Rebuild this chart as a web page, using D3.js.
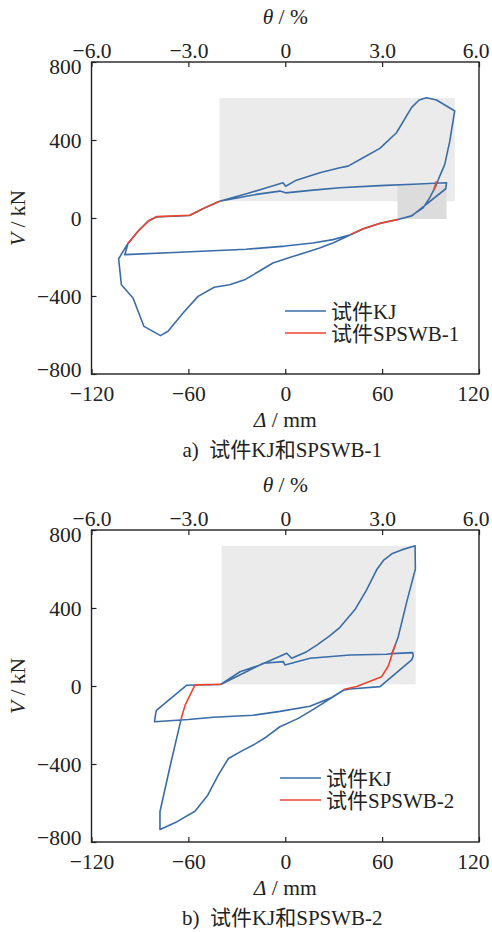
<!DOCTYPE html>
<html>
<head>
<meta charset="utf-8">
<script src="https://cdn.jsdelivr.net/npm/d3@7"></script>
<style>
  body { margin: 0; background: #fff; }
  svg text { font-family: "Liberation Serif", "Noto Sans CJK SC", serif; fill: #222; }
</style>
</head>
<body>
<svg id="chart" width="492" height="932"></svg>
<script>
// tick values
const dispTicks = [-120, -60, 0, 60, 120];
const driftTicks = [-6, -3, 0, 3, 6];
const forceTicks = [-800, -400, 0, 400, 800];

// panel a: [displacement mm, force kN], null = pen up
const kjA = [
  [-40.7, 86], [-24, 124], [-11.6, 155], [-1.4, 181], [0.3, 163], [6.9, 194], [21.4, 232],
  [33.8, 258], [38.9, 266], [48.2, 309], [58.6, 357], [68.9, 437], [78.2, 566], [82.9, 605],
  [87.5, 617], [93.7, 605], [105, 549], [104.4, 523], [101.9, 394], [98.8, 275], [95.7, 215],
  [93.2, 163], [89.5, 104], [85.4, 52], [78.2, 12], [69.9, -8], [78.2, 10], [99.4, 150],
  [99.9, 181], [79.1, 173], [58.5, 166], [33.8, 155], [17.2, 143], [0.3, 129], [-3.4, 138],
  [-17.8, 121], [-40.7, 86], [-50, 51], [-59.2, 13], [-79.8, 5], [-85, -17], [-91.2, -68],
  [-97.4, -131], [-99.4, -188], [-65.5, -176], [-24.2, -160], [0, -144], [17.1, -128],
  [29.5, -111], [40.5, -86], [29.5, -128], [21.3, -154], [2.7, -203], [-7.6, -231],
  [-25.2, -317], [-34.5, -342], [-44, -355], [-54, -402], [-63.3, -487], [-72.6, -581],
  [-77.3, -603], [-87.5, -556], [-94.3, -410], [-101.5, -342], [-103.2, -210], [-100, -165],
  [-97.4, -131],
  null,
  [69.9, -8], [58.6, -28], [48.2, -56], [40.5, -86]
];
const spswb1 = [
  [-97.4, -131], [-91.2, -68], [-85, -17], [-79.8, 7], [-59.2, 14], [-50, 52], [-40.7, 86],
  null,
  [40.5, -84], [48.2, -55], [58.6, -27], [69.9, -7],
  null,
  [92, 142], [93.6, 188]
];
// shaded zones [x0, v0, x1, v1]
const zonesA = [[-40.7, 86, 105, 616], [-103.3, -86, 40.9, -608]];
const zoneDarkA = [[69.5, -5, 99.9, 170]];

// panel b
const kjB = [
  [-40, 8], [-28, 73], [-15.6, 108], [0.9, 168], [4, 142], [13.3, 176], [20, 212], [27.7, 258],
  [33.9, 301], [43.2, 392], [50.4, 493], [56.6, 596], [60.8, 644], [66, 678], [72.1, 698],
  [80.4, 719], [80.6, 600], [75.2, 430], [70, 253], [67, 185], [65.8, 166], [78.9, 171],
  [79.3, 154], [78.3, 134], [58.7, -3], [40.1, -15], [36, -22], [17.4, -120], [8.1, -166],
  [-3.3, -209], [-11.5, -260], [-19.8, -303], [-26, -329], [-35.2, -372], [-41.5, -457],
  [-48, -560], [-55.9, -642], [-67.3, -697], [-77.6, -736], [-77.6, -645], [-71.4, -414],
  [-64.6, -174], [-81, -183], [-80.2, -140], [-79.8, -125], [-61, 4], [-55.9, 5], [-40, 8],
  [-39.4, 10], [-26, 65], [-13.6, 117], [-1.2, 125], [-0.2, 108], [15.3, 142], [40.1, 159],
  [62.8, 163], [65.8, 166],
  null,
  [-64.6, -174], [-60, -172], [-44.5, -160], [-20, -150], [-3.2, -130], [15.3, -104],
  [28, -62], [36, -22]
];
const spswb2 = [
  [-40, 9], [-55.9, 6], [-62, -98], [-64.6, -172],
  null,
  [36, -18], [44.2, -3], [59.7, 48], [63.9, 104], [68, 210]
];
const zonesB = [[-39.4, 8, 80.8, 719], [-77.6, -15, 36.4, -736]];

const panels = [
  { top: 62, kj: kjA, sp: spswb1, zones: zonesA, dark: zoneDarkA,
    legend: ["试件KJ", "试件SPSWB-1"], caption: "a)  试件KJ和SPSWB-1", legX: 285, legY: 311 },
  { top: 530, kj: kjB, sp: spswb2, zones: zonesB, dark: [],
    legend: ["试件KJ", "试件SPSWB-2"], caption: "b)  试件KJ和SPSWB-2", legX: 280, legY: 778 }
];

const blue = "#3a6ca8", red = "#ee4430";
const left = 91.5, right = 479, plotH = 312;
const fs = 21.5;
const svg = d3.select("#chart");
const fmt1 = d => d === 0 ? "0" : d3.format(".1f")(d);
const fmt0 = d => d3.format("d")(d);

panels.forEach(p => {
  const x = d3.scaleLinear().domain([-120, 120]).range([left, right]);
  const t = d3.scaleLinear().domain([-6, 6]).range([left, right]);
  const y = d3.scaleLinear().domain([-800, 800]).range([p.top + plotH, p.top]);
  const g = svg.append("g");

  // shaded zones
  g.selectAll("rect.zone").data(p.zones).join("rect")
    .attr("class", "zone")
    .attr("x", d => x(d[0])).attr("y", d => y(d[3]))
    .attr("width", d => x(d[2]) - x(d[0])).attr("height", d => y(d[1]) - y(d[3]))
    .attr("fill", "#ebebeb");
  g.selectAll("rect.dark").data(p.dark).join("rect")
    .attr("class", "dark")
    .attr("x", d => x(d[0])).attr("y", d => y(d[3]))
    .attr("width", d => x(d[2]) - x(d[0])).attr("height", d => y(d[1]) - y(d[3]))
    .attr("fill", "#dcdcdc");

  // axes, ticks pointing inward
  const axB = g.append("g").attr("transform", `translate(0,${p.top + plotH})`)
    .call(d3.axisBottom(x).tickValues(dispTicks).tickFormat(fmt0).tickSizeInner(-5).tickSizeOuter(0).tickPadding(13));
  const axT = g.append("g").attr("transform", `translate(0,${p.top})`)
    .call(d3.axisTop(t).tickValues(driftTicks).tickFormat(fmt1).tickSizeInner(-5).tickSizeOuter(0).tickPadding(4));
  const axL = g.append("g").attr("transform", `translate(${left},0)`)
    .call(d3.axisLeft(y).tickValues(forceTicks).tickFormat(fmt0).tickSizeInner(-5).tickSizeOuter(0).tickPadding(10));
  [axB, axT, axL].forEach(a => {
    a.select(".domain").remove();
    a.selectAll("line").attr("stroke", "#222").attr("stroke-width", 1.2);
    a.selectAll("text").attr("font-size", fs).attr("font-family", null).attr("fill", "#222");
  });
  // end labels sit a little inside the frame, as in the original
  axL.selectAll("text").attr("dy", d => d === 800 ? "0.52em" : d === -800 ? "0.12em" : "0.36em");
  axB.selectAll("text").attr("dy", "0.66em");
  [axB, axT].forEach(a => a.selectAll(".tick:last-of-type text")
    .attr("text-anchor", "end").attr("x", 10));

  // frame
  g.append("rect").attr("x", left).attr("y", p.top)
    .attr("width", right - left).attr("height", plotH)
    .attr("fill", "none").attr("stroke", "#222").attr("stroke-width", 1.4);

  // curves
  const line = d3.line().defined(d => d !== null).x(d => x(d[0])).y(d => y(d[1]));
  g.append("path").datum(p.kj).attr("d", line)
    .attr("fill", "none").attr("stroke", blue).attr("stroke-width", 1.6).attr("stroke-linejoin", "round");
  g.append("path").datum(p.sp).attr("d", line)
    .attr("fill", "none").attr("stroke", red).attr("stroke-width", 1.6).attr("stroke-linejoin", "round");

  // legend
  const leg = g.append("g");
  [[blue, p.legend[0]], [red, p.legend[1]]].forEach((e, i) => {
    const ly = p.legY + i * 22;
    leg.append("line").attr("x1", p.legX).attr("x2", p.legX + 41)
      .attr("y1", ly).attr("y2", ly).attr("stroke", e[0]).attr("stroke-width", 1.6);
    leg.append("text").attr("x", p.legX + 46).attr("y", ly).attr("dy", "0.36em")
      .attr("font-size", 21).text(e[1]);
  });

  // axis titles
  const cx = (left + right) / 2;
  const tt = g.append("text").attr("x", cx).attr("y", p.top - 38)
    .attr("text-anchor", "middle").attr("font-size", fs);
  tt.append("tspan").attr("font-style", "italic").text("θ");
  tt.append("tspan").text(" / %");

  const bt = g.append("text").attr("x", cx).attr("y", p.top + plotH + 53)
    .attr("text-anchor", "middle").attr("font-size", fs);
  bt.append("tspan").attr("font-style", "italic").text("Δ");
  bt.append("tspan").text(" / mm");

  const lt = g.append("text")
    .attr("transform", `translate(25,${p.top + plotH / 2}) rotate(-90)`)
    .attr("text-anchor", "middle").attr("font-size", fs);
  lt.append("tspan").attr("font-style", "italic").text("V");
  lt.append("tspan").text(" / kN");

  g.append("text").attr("x", cx - 3).attr("y", p.top + plotH + 83)
    .attr("text-anchor", "middle").attr("font-size", 21).attr("xml:space", "preserve")
    .text(p.caption);
});
</script>
</body>
</html>
